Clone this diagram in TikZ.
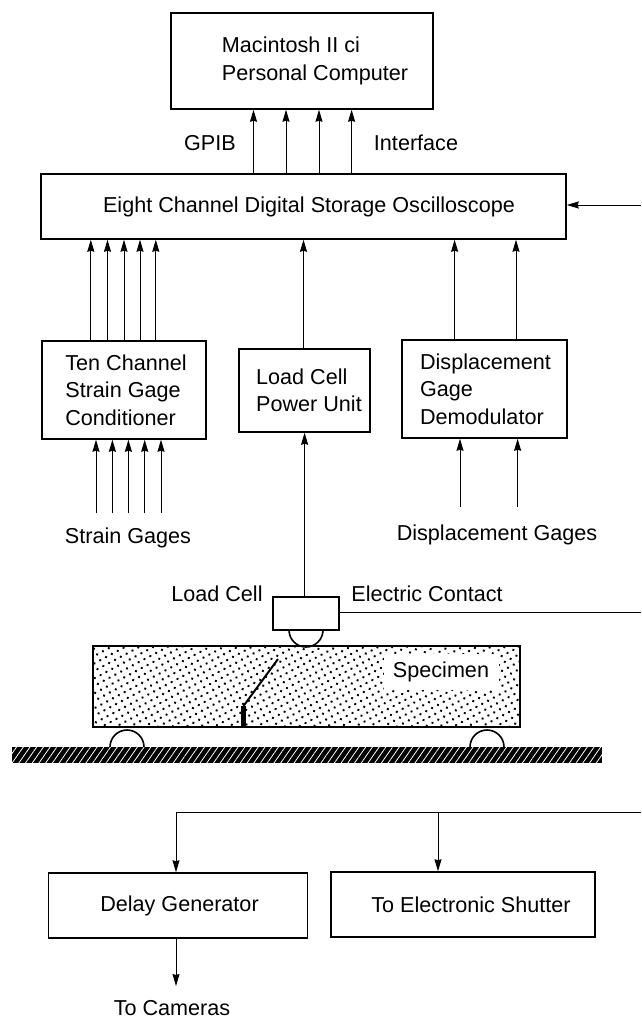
\documentclass[tikz,border=0pt]{standalone}
\usepackage{fontspec}
\setmainfont{Liberation Sans}
\usetikzlibrary{arrows.meta, patterns.meta}
\tikzset{
  box/.style={rectangle, draw=black, line width=1.5pt, fill=white, inner sep=0pt,
              font=\fontsize{21.6}{27.5}\selectfont, text=black, align=left},
  lbl/.style={inner sep=0pt, font=\fontsize{21.6}{27.5}\selectfont, text=black},
  arr/.style={-{Stealth[length=12pt, width=7pt, inset=1pt]}, line width=0.9pt, color=black},
  wire/.style={line width=0.9pt, color=black},
  roller/.style={line width=1.6pt, color=black},
}

\begin{document}
\begin{tikzpicture}[x=1pt, y=-1pt]
      \path[fill=white, use as bounding box] (0,0) rectangle (641,1020);

      \node[box, minimum width=262, minimum height=96] (pc) at (302,61)
            {\hspace*{26pt}Macintosh II ci\\\hspace*{26pt}Personal Computer};
      \node[box, minimum width=525, minimum height=65] (osc) at (303.5,206.5)
            {\hspace*{11pt}Eight Channel Digital Storage Oscilloscope};
      \node[box, minimum width=164, minimum height=98] (cond) at (124,390)
            {\hspace*{4pt}Ten Channel\\\hspace*{4pt}Strain Gage\\\hspace*{4pt}Conditioner};
      \node[box, minimum width=131, minimum height=83] (power) at (304.5,390.5)
            {\hspace*{9pt}Load Cell\\\hspace*{9pt}Power Unit};
      \node[box, minimum width=165, minimum height=98] (demod) at (484.5,389)
            {\hspace*{2pt}Displacement\\\hspace*{2pt}Gage\\\hspace*{2pt}Demodulator};

      \node[lbl] (gpib) at (210,143) {GPIB};
      \node[lbl] (iface) at (416,143) {Interface};
      \node[lbl] (sgages) at (128,538) {Strain Gages};
      \node[lbl] (dgages) at (497,535) {Displacement Gages};
      \node[lbl] (lclbl) at (217,594) {Load Cell};
      \node[lbl] (eclbl) at (427,594) {Electric Contact};

      \coordinate (sgend) at (0,513);
      \coordinate (dgend) at (0,507);
      \coordinate (oscin) at (641,205);
      \coordinate (ecend) at (641,612);
      \coordinate (trigend) at (641,812);
      \coordinate (camend) at (176,986);

      % Bus and channel arrows
      \foreach \x in {253.5,286,319,351.6}
        \draw[arr] (\x,0 |- osc.north) -- (\x,0 |- pc.south);
      \foreach \x in {90.8,107.5,124,140,155.8}
        \draw[arr] (\x,0 |- cond.north) -- (\x,0 |- osc.south);
      \draw[arr] (303.5,0 |- power.north) -- (303.5,0 |- osc.south);
      \foreach \x in {454.6,516}
        \draw[arr] (\x,0 |- demod.north) -- (\x,0 |- osc.south);
      \foreach \x in {96,112.4,128.4,144.7,161}
        \draw[arr] (\x,0 |- sgend) -- (\x,0 |- cond.south);
      \foreach \x in {460,517.6}
        \draw[arr] (\x,0 |- dgend) -- (\x,0 |- demod.south);
      \draw[arr] (oscin) -- (oscin -| osc.east);

      % Specimen on its supports
      \draw[roller] (110,747) arc[start angle=180, end angle=360, radius=17];
      \draw[roller] (470,747) arc[start angle=180, end angle=360, radius=17];
      \draw[roller] (289,630) arc[start angle=180, end angle=0, radius=17];
      \node[draw=black, line width=1.5pt, inner sep=0pt, minimum width=427, minimum height=81,
            pattern={Dots[radius=1.35pt, distance=6.6pt, angle=28]}] (spec) at (306.5,686.5) {};
      \node[lbl, fill=white, minimum width=115, minimum height=36] (speclbl) at (441,672) {Specimen};
      \draw[line width=2pt] (278,659) -- (243.5,706);
      \fill[black] (240.5,706) rectangle (245.5,728);
      \path[preaction={fill=black}, pattern={Lines[angle=55, distance=5.5pt, line width=0.8pt]},
            pattern color=white] (12,747) rectangle (602,763);

      \node[box, minimum width=66, minimum height=33] (lcell) at (306,613.5) {};
      \draw[arr] (304.6,0 |- lcell.north) -- (304.6,0 |- power.south);
      \draw[wire] (ecend -| lcell.east) -- (ecend);

      % Trigger branch
      \node[box, minimum width=259, minimum height=65] (delay) at (178,905.5)
            {\hspace*{3pt}Delay Generator};
      \node[box, minimum width=264, minimum height=65] (shutter) at (463,904.5)
            {\hspace*{16pt}To Electronic Shutter};
      \node[lbl] (cam) at (172,1008) {To Cameras};

      \draw[arr] (trigend) -- (176,0 |- trigend) -- (176,0 |- delay.north);
      \draw[arr] (438,0 |- trigend) -- (438,0 |- shutter.north);
      \draw[arr] (176,0 |- delay.south) -- (camend);
    \end{tikzpicture}
\end{document}
